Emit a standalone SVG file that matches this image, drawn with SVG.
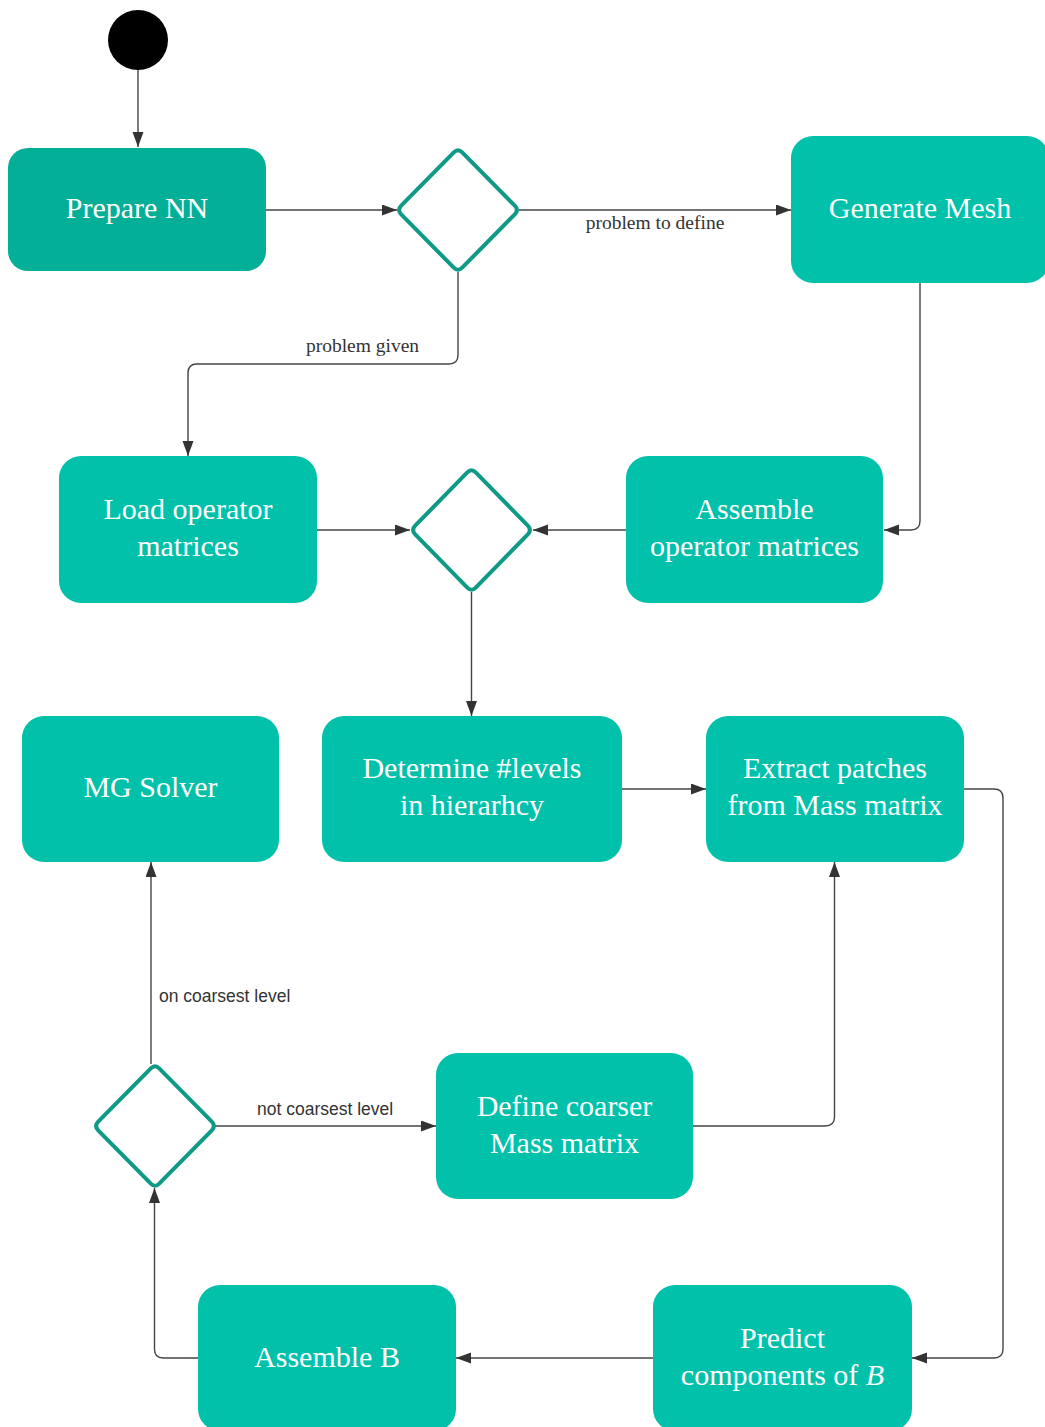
<svg xmlns="http://www.w3.org/2000/svg" width="1045" height="1427" viewBox="0 0 1045 1427">
<style>
.box{fill:#02C1AA;}
.dark{fill:#04AF97;}
.dia{fill:#ffffff;stroke:#0E9A86;stroke-width:4;stroke-linejoin:round;}
.t{font-family:"Liberation Serif",serif;font-size:30px;fill:#ffffff;text-anchor:middle;}
.lbl{font-family:"Liberation Serif",serif;font-size:19.5px;fill:#333333;text-anchor:middle;}
.lbs{font-family:"Liberation Sans",sans-serif;font-size:17.5px;fill:#333333;}
.c{fill:none;stroke:#444444;stroke-width:1.4;marker-end:url(#ah);}
</style>
<defs>
<marker id="ah" markerUnits="userSpaceOnUse" markerWidth="16" markerHeight="12" refX="15" refY="5.5" orient="auto">
<path d="M0,0 L15,5.5 L0,11 z" fill="#333333"/>
</marker>
</defs>
<rect width="1045" height="1427" fill="#ffffff"/>
<g id="connectors">
<path class="c" d="M138,70 L138,147"/>
<path class="c" d="M266,210 L397,210"/>
<path class="c" d="M519,210 L791,210"/>
<path class="c" d="M458,272 L458,355 Q458,364 449,364 L197,364 Q188,364 188,373 L188,456"/>
<path class="c" d="M920,283 L920,521 Q920,530 911,530 L884,530"/>
<path class="c" d="M317,530 L410,530"/>
<path class="c" d="M626,530 L533,530"/>
<path class="c" d="M471.5,592 L471.5,716"/>
<path class="c" d="M622,789 L706,789"/>
<path class="c" d="M964,789 L994,789 Q1003,789 1003,798 L1003,1349 Q1003,1358 994,1358 L912,1358"/>
<path class="c" d="M653,1358 L456,1358"/>
<path class="c" d="M198,1358 L163,1358 Q154.5,1358 154.5,1349 L154.5,1188"/>
<path class="c" d="M151,1064 L151,862"/>
<path class="c" d="M215,1126 L436,1126"/>
<path class="c" d="M693,1126 L825,1126 Q834.5,1126 834.5,1117 L834.5,862"/>
<text class="lbl" x="655" y="229">problem to define</text>
<text class="lbl" x="362.5" y="352">problem given</text>
<text class="lbs" x="159" y="1002">on coarsest level</text>
<text class="lbs" x="257" y="1115">not coarsest level</text>
</g>
<g id="start"><circle cx="138" cy="40" r="30" fill="#000000"/></g>
<g id="prepare-nn"><rect class="dark" x="8" y="148" width="258" height="123" rx="20"/><text class="t" x="137" y="218">Prepare NN</text></g>
<g id="decision-1"><path class="dia" d="M462.2,152.3 L514.8,205.7 Q519,210 514.8,214.3 L462.2,267.7 Q458,272 453.8,267.7 L401.2,214.3 Q397,210 401.2,205.7 L453.8,152.3 Q458,148 462.2,152.3 Z"/></g>
<g id="generate-mesh"><rect class="box" x="791" y="136" width="258" height="147" rx="22"/><text class="t" x="920" y="218">Generate Mesh</text></g>
<g id="load-operator"><rect class="box" x="59" y="456" width="258" height="147" rx="22"/><text class="t" x="188" y="519">Load operator</text><text class="t" x="188" y="556">matrices</text></g>
<g id="decision-2"><path class="dia" d="M475.7,472.3 L527.8,525.7 Q532,530 527.8,534.3 L475.7,587.7 Q471.5,592 467.3,587.7 L415.2,534.3 Q411,530 415.2,525.7 L467.3,472.3 Q471.5,468 475.7,472.3 Z"/></g>
<g id="assemble-operator"><rect class="box" x="626" y="456" width="257" height="147" rx="22"/><text class="t" x="754.5" y="519">Assemble</text><text class="t" x="754.5" y="556">operator matrices</text></g>
<g id="mg-solver"><rect class="box" x="22" y="716" width="257" height="146" rx="22"/><text class="t" x="150.5" y="797">MG Solver</text></g>
<g id="determine-levels"><rect class="box" x="322" y="716" width="300" height="146" rx="22"/><text class="t" x="472" y="778">Determine #levels</text><text class="t" x="472" y="815">in hierarhcy</text></g>
<g id="extract-patches"><rect class="box" x="706" y="716" width="258" height="146" rx="22"/><text class="t" x="835" y="778">Extract patches</text><text class="t" x="835" y="815">from Mass matrix</text></g>
<g id="decision-3"><path class="dia" d="M159.2,1068.3 L211.8,1121.7 Q216,1126 211.8,1130.3 L159.2,1183.7 Q155,1188 150.8,1183.7 L98.2,1130.3 Q94,1126 98.2,1121.7 L150.8,1068.3 Q155,1064 159.2,1068.3 Z"/></g>
<g id="define-coarser"><rect class="box" x="436" y="1053" width="257" height="146" rx="22"/><text class="t" x="564.5" y="1116">Define coarser</text><text class="t" x="564.5" y="1153">Mass matrix</text></g>
<g id="assemble-b"><rect class="box" x="198" y="1285" width="258" height="146" rx="22"/><text class="t" x="327" y="1367">Assemble B</text></g>
<g id="predict-components"><rect class="box" x="653" y="1285" width="259" height="146" rx="22"/><text class="t" x="782.5" y="1348">Predict</text><text class="t" x="782.5" y="1385">components of <tspan font-style="italic">B</tspan></text></g>
</svg>
